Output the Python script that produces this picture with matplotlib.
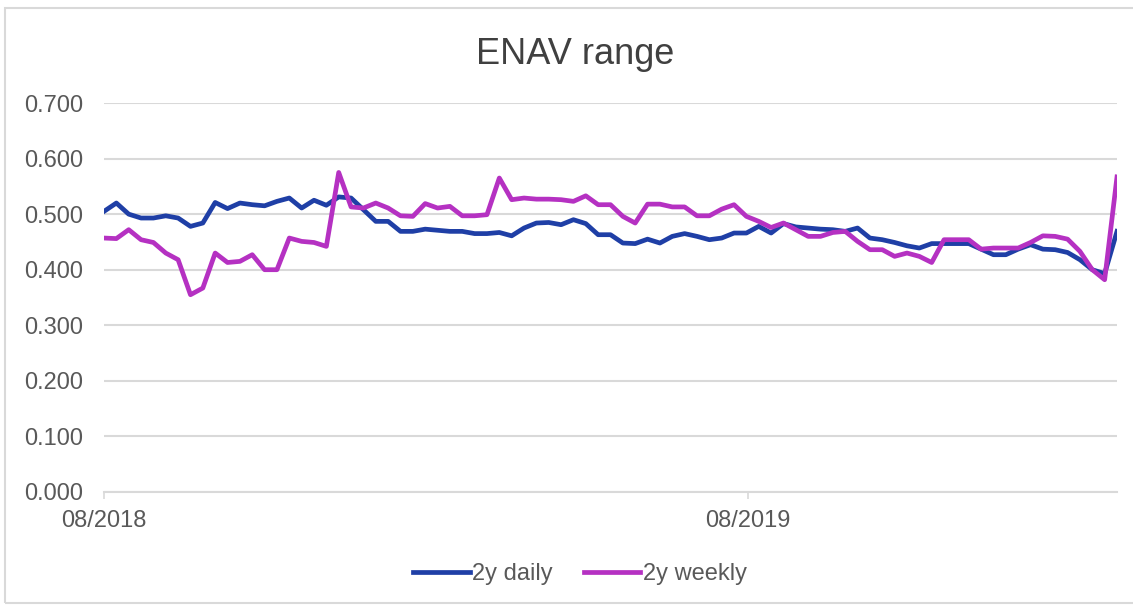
import matplotlib
matplotlib.use("Agg")
import matplotlib.pyplot as plt
import matplotlib.dates as mdates
import pandas as pd
from matplotlib.patches import Rectangle

dates = pd.date_range("2018-08-01", periods=83, freq="7D")

daily_2y = [0.505, 0.520, 0.500, 0.493, 0.493, 0.497, 0.493, 0.478, 0.484, 0.521,
            0.510, 0.520, 0.517, 0.515, 0.523, 0.529, 0.511, 0.525, 0.516, 0.531,
            0.529, 0.508, 0.487, 0.487, 0.469, 0.469, 0.473, 0.471,
            0.469, 0.469, 0.465, 0.465, 0.467, 0.461, 0.475, 0.484, 0.485, 0.481,
            0.490, 0.483, 0.463, 0.463, 0.448, 0.447, 0.455, 0.448, 0.460, 0.465,
            0.460, 0.454, 0.457, 0.466, 0.466, 0.478, 0.466,
            0.483, 0.477, 0.475, 0.473, 0.472, 0.469, 0.475, 0.457, 0.454, 0.449,
            0.443, 0.439, 0.447, 0.447, 0.447, 0.447, 0.437, 0.427, 0.427, 0.437,
            0.445, 0.437, 0.436, 0.431, 0.418, 0.400, 0.393, 0.469]

weekly_2y = [0.457, 0.456, 0.472, 0.454, 0.449, 0.430, 0.418, 0.355, 0.367, 0.430,
             0.413, 0.415, 0.427, 0.400, 0.400, 0.457, 0.451, 0.449, 0.442, 0.575,
             0.513, 0.511, 0.520, 0.511, 0.497, 0.496, 0.519, 0.511,
             0.514, 0.497, 0.497, 0.499, 0.565, 0.526, 0.529, 0.527, 0.527, 0.526,
             0.523, 0.533, 0.517, 0.517, 0.496, 0.484, 0.518, 0.518, 0.513, 0.513,
             0.497, 0.497, 0.509, 0.517, 0.496, 0.487, 0.476,
             0.484, 0.472, 0.460, 0.460, 0.467, 0.469, 0.451, 0.436, 0.436, 0.424,
             0.430, 0.424, 0.413, 0.454, 0.454, 0.454, 0.437, 0.439, 0.439, 0.439,
             0.449, 0.461, 0.460, 0.455, 0.433, 0.400, 0.382, 0.567]

y_ticks = [0.0, 0.1, 0.2, 0.3, 0.4, 0.5, 0.6, 0.7]
x_ticks = [pd.Timestamp("2018-08-01"), pd.Timestamp("2019-08-01")]
title = "ENAV range"
series_labels = ["2y daily", "2y weekly"]
colors = ["#1f3fa6", "#b531c2"]

plt.rcParams["font.family"] = ["Liberation Sans", "DejaVu Sans"]

W, H = 1133, 606
fig = plt.figure(figsize=(W / 100, H / 100), dpi=100)
fig.patch.set_facecolor("white")
fig.patches.append(Rectangle((5 / W, 3 / H), 1.2, (603 - 8) / H * 1.0,
                             transform=fig.transFigure, fill=False,
                             edgecolor="#d9d9d9", linewidth=1.5, zorder=0))

ax = fig.add_axes([104 / W, 1 - 492 / H, (1117 - 104) / W, (492 - 103) / H])
ax.plot(dates, daily_2y, color=colors[0], lw=3.4, label=series_labels[0],
        solid_joinstyle="round", zorder=3)
ax.plot(dates, weekly_2y, color=colors[1], lw=3.4, label=series_labels[1],
        solid_joinstyle="round", zorder=4)

ax.set_ylim(0, 0.7)
ax.set_xlim(dates[0], dates[-1])
ax.set_yticks(y_ticks)
ax.set_yticklabels([f"{v:.3f}" for v in y_ticks])
ax.set_xticks(x_ticks)
ax.xaxis.set_major_formatter(mdates.DateFormatter("%m/%Y"))

ax.grid(axis="y", color="#d9d9d9", lw=1.5)
ax.set_axisbelow(True)
for s in ["top", "right", "left"]:
    ax.spines[s].set_visible(False)
ax.spines["bottom"].set_color("#d9d9d9")
ax.spines["bottom"].set_linewidth(1.5)
ax.tick_params(axis="y", length=0, pad=15, labelsize=17, labelcolor="#595959")
ax.tick_params(axis="x", length=5, width=1.2, color="#d9d9d9", pad=8,
               labelsize=17, labelcolor="#595959")

fig.text(575 / W, 1 - 55 / H, title, ha="center", va="center",
         fontsize=26, color="#404040")

leg = fig.legend(loc="center", bbox_to_anchor=(580 / W, 1 - 574 / H), ncol=2,
                 frameon=False, fontsize=17, handlelength=2.4, handletextpad=0.1,
                 columnspacing=1.3)
for t in leg.get_texts():
    t.set_color("#595959")

fig.savefig("out.png", dpi=100, facecolor="white")
